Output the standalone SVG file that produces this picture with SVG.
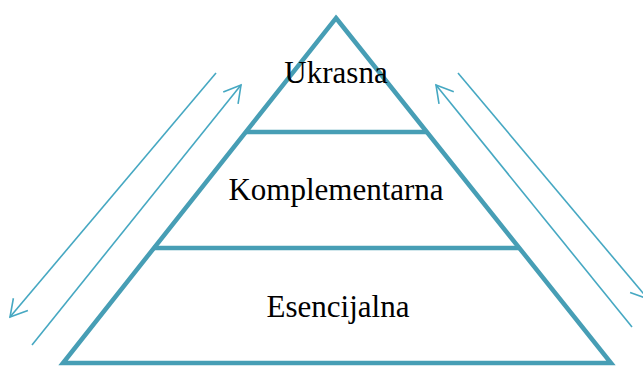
<svg xmlns="http://www.w3.org/2000/svg" width="643" height="367" viewBox="0 0 643 367">
  <style>
    .frame { fill: none; stroke: #479EB5; stroke-width: 4.5; stroke-linejoin: miter; }
    .tier { fill: none; stroke: #479EB5; stroke-width: 4.5; }
    .flow { fill: none; stroke: #46A8C2; stroke-width: 1.6; }
    .label { font-family: "Liberation Serif", "Times New Roman", serif; font-size: 31px; fill: #000; text-anchor: middle; }
  </style>
  <defs>
    <marker id="openHead" markerUnits="userSpaceOnUse" markerWidth="24" markerHeight="24" viewBox="-20 -12 24 24" refX="0" refY="0" orient="auto">
      <path d="M -16.5 -9.5 L 0 0 L -16.5 9.5" fill="none" stroke="#46A8C2" stroke-width="1.6"/>
    </marker>
  </defs>
  <rect width="643" height="367" fill="#fff"/>

  <!-- pyramid outline and tier dividers -->
  <g id="pyramid">
    <path class="frame" d="M 336 18 L 611 363 L 63 363 Z"/>
    <line class="tier" x1="245" y1="132" x2="427" y2="132"/>
    <line class="tier" x1="153" y1="248" x2="519" y2="248"/>
  </g>

  <g id="ukrasna">
    <text class="label" x="336" y="83">Ukrasna</text>
  </g>
  <g id="komplementarna">
    <text class="label" x="336" y="200">Komplementarna</text>
  </g>
  <g id="esencijalna">
    <text class="label" x="338" y="317">Esencijalna</text>
  </g>

  <!-- flow arrows along both slopes -->
  <g id="connectors">
    <line class="flow" x1="216" y1="73" x2="10" y2="317" marker-end="url(#openHead)"/>
    <line class="flow" x1="32" y1="345" x2="241" y2="85" marker-end="url(#openHead)"/>
    <line class="flow" x1="632" y1="327" x2="436" y2="85" marker-end="url(#openHead)"/>
    <line class="flow" x1="458" y1="73" x2="648" y2="299" marker-end="url(#openHead)"/>
  </g>
</svg>
